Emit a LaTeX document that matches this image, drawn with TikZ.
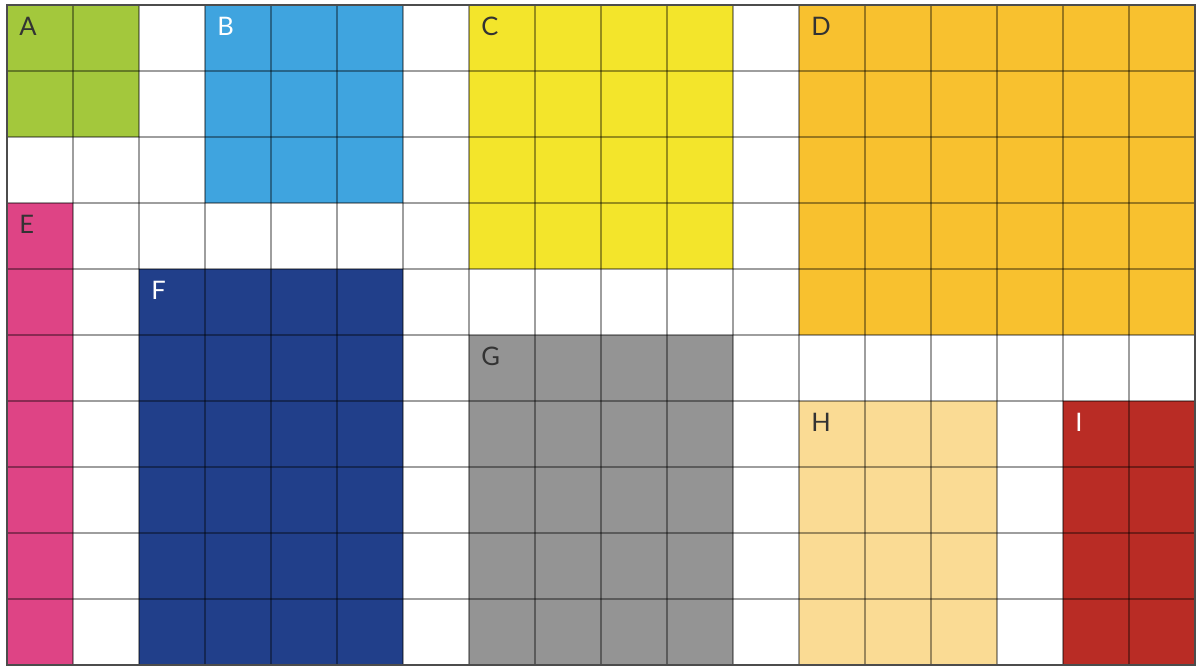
\documentclass[tikz,border=0pt]{standalone}
\usepackage{fontspec}
\setmainfont{Lato}
\definecolor{cA}{HTML}{A3C83C}
\definecolor{cB}{HTML}{3FA4DF}
\definecolor{cC}{HTML}{F3E52B}
\definecolor{cD}{HTML}{F8C12F}
\definecolor{cE}{HTML}{DE4485}
\definecolor{cF}{HTML}{213F8A}
\definecolor{cG}{HTML}{949494}
\definecolor{cH}{HTML}{FADB94}
\definecolor{cI}{HTML}{B92C25}
\tikzset{
  blocklbl/.style={anchor=west,inner sep=0pt,font=\fontsize{11}{11}\selectfont},
  gridln/.style={draw=black,draw opacity=0.38,line width=0.5pt},
}
\begin{document}
\begin{tikzpicture}[x=1cm,y=-1cm]
\useasboundingbox (-0.106,-0.076) rectangle (18.015,10.03);
\fill[white] (-0.106,-0.076) rectangle (18.015,10.03);
% colored blocks (x0,y0,x1,y1 in cells)
\fill[cA] (0,0) rectangle (2,2);
\fill[cB] (3,0) rectangle (6,3);
\fill[cC] (7,0) rectangle (11,4);
\fill[cD] (12,0) rectangle (18,5);
\fill[cE] (0,3) rectangle (1,10);
\fill[cF] (2,4) rectangle (6,10);
\fill[cG] (7,5) rectangle (11,10);
\fill[cH] (12,6) rectangle (15,10);
\fill[cI] (16,6) rectangle (18,10);
% grid
\foreach \i in {1,...,17} \draw[gridln] (\i,0) -- (\i,10);
\foreach \j in {1,...,9} \draw[gridln] (0,\j) -- (18,\j);
\draw[draw=black!70,line width=0.9pt] (0,0) rectangle (18,10);
% labels
\node[blocklbl,text=black!80] (lA) at (0.18,0.33) {A};
\node[blocklbl,text=white] (lB) at (3.18,0.33) {B};
\node[blocklbl,text=black!80] (lC) at (7.18,0.33) {C};
\node[blocklbl,text=black!80] (lD) at (12.18,0.33) {D};
\node[blocklbl,text=black!80] (lE) at (0.18,3.33) {E};
\node[blocklbl,text=white] (lF) at (2.18,4.33) {F};
\node[blocklbl,text=black!80] (lG) at (7.18,5.33) {G};
\node[blocklbl,text=black!80] (lH) at (12.18,6.33) {H};
\node[blocklbl,text=white] (lI) at (16.18,6.33) {I};
\end{tikzpicture}
\end{document}
